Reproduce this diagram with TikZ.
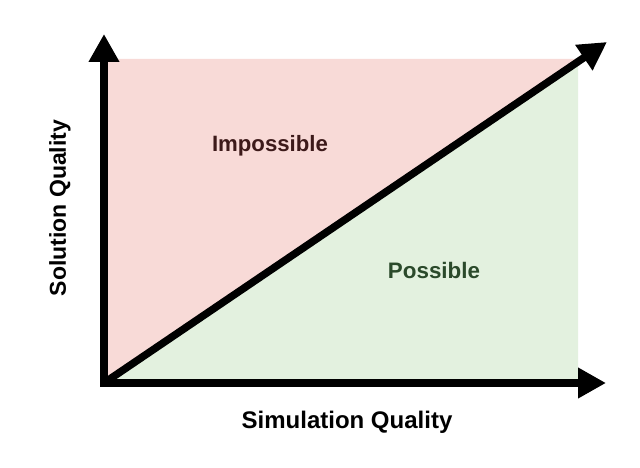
\documentclass[tikz,border=0pt]{standalone}
\usepackage{fontspec}
\setmainfont{Liberation Sans}
\usetikzlibrary{arrows.meta}
\definecolor{pinkbg}{HTML}{F8DAD7}
\definecolor{greenbg}{HTML}{E3F1DF}
\definecolor{imptext}{HTML}{3D1A1A}
\definecolor{postext}{HTML}{2B4A2B}
\begin{document}
\begin{tikzpicture}[x=1pt,y=-1pt,
  axis/.style={line width=7.5pt,-{Triangle[length=28pt,width=29pt]}},
  lbl/.style={inner sep=0pt}]
\useasboundingbox (0,0) rectangle (640,468);
\coordinate (O) at (104,383);
\coordinate (TL) at (104,59);
\coordinate (TR) at (578,59);
\coordinate (BR) at (578,383);
\coordinate (YT) at (104,34);
\coordinate (XT) at (606,383);
\coordinate (DT) at (607,42);
\fill[pinkbg] (O) -- (TL) -- (TR) -- cycle;
\fill[greenbg] (O) -- (TR) -- (BR) -- cycle;
\draw[axis] ([yshift=3.75pt]O) -- (YT);
\draw[axis] ([xshift=-3.75pt]O) -- (XT);
\draw[axis] (O) -- (DT);
\node[lbl, text=imptext, font=\fontsize{22.2}{26}\selectfont\bfseries] (imp) at (270,146) {Impossible};
\node[lbl, text=postext, font=\fontsize{22.4}{26}\selectfont\bfseries] (pos) at (434,270) {Possible};
\node[lbl, font=\fontsize{24}{28}\selectfont\bfseries] (xl) at (347,422) {Simulation Quality};
\node[lbl, font=\fontsize{23}{27}\selectfont\bfseries, rotate=90] (yl) at (60,208) {Solution Quality};
\end{tikzpicture}
\end{document}
